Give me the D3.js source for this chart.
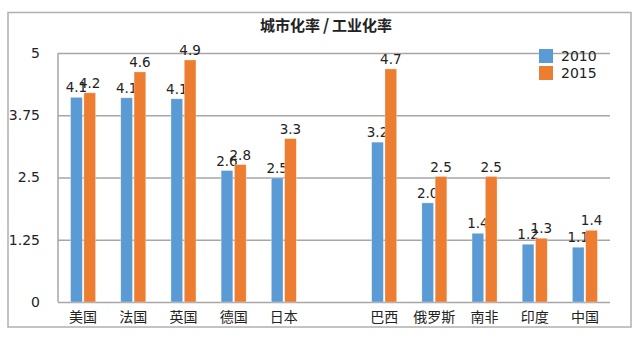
<!DOCTYPE html>
<html><head><meta charset="utf-8">
<script src="https://cdn.jsdelivr.net/npm/d3@7"></script>
<style>html,body{margin:0;padding:0;background:#fff}svg{display:block}</style>
</head><body><svg id="c" width="640" height="340"></svg>
<script>
const categories = ["美国","法国","英国","德国","日本","","巴西","俄罗斯","南非","印度","中国"];
const seriesNames = ["2010","2015"];
const values2010 = [4.11, 4.10, 4.08, 2.64, 2.49, null, 3.21, 1.99, 1.38, 1.16, 1.10];
const values2015 = [4.20, 4.62, 4.86, 2.76, 3.28, null, 4.68, 2.52, 2.52, 1.28, 1.44];
const yTicks = [0, 1.25, 2.5, 3.75, 5];
const yTickLabels = ["0", "1.25", "2.5", "3.75", "5"];
const colors = ["#5b9bd5", "#ed7d31"];
const titleParts = ["城市化率", "/", "工业化率"];

const svg = d3.select("#c");
const m = {l: 58, r: 610, t: 53, b: 302};
const x = d3.scaleBand().domain(categories).range([m.l, m.r]);
const y = d3.scaleLinear().domain([0, 5]).range([m.b, m.t]);
const xs = d3.scaleBand().domain(seriesNames).range([-12.5, 12.5]).paddingInner(0.12);

// outer border
svg.append("rect").attr("x", 8).attr("y", 12.5).attr("width", 623).attr("height", 314.5)
  .attr("fill", "#fff").attr("stroke", "#b0b0b0").attr("stroke-width", 1.5);

// title
const t = svg.append("text").attr("x", 326).attr("y", 31).attr("text-anchor", "middle")
  .attr("font-family", "'Noto Sans CJK SC', sans-serif").attr("font-weight", "bold")
  .attr("font-size", 15).attr("fill", "#222");
t.append("tspan").text(titleParts[0]);
t.append("tspan").attr("dx", 3).attr("font-size", 16).text(titleParts[1]);
t.append("tspan").attr("dx", 3).text(titleParts[2]);

// y axis with gridlines
const yAxis = d3.axisLeft(y).tickValues(yTicks)
  .tickFormat((d, i) => yTickLabels[i]).tickSize(-(m.r - m.l)).tickPadding(18);
const gy = svg.append("g").attr("transform", `translate(${m.l},0)`).call(yAxis);
gy.select(".domain").remove();
gy.selectAll(".tick line").attr("stroke", "#a6a6a6").attr("stroke-width", 1.5);
gy.selectAll(".tick text").attr("font-family", "'DejaVu Sans', Verdana, sans-serif")
  .attr("font-size", 14).attr("fill", "#222");

// left vertical axis line
svg.append("line").attr("x1", m.l).attr("x2", m.l).attr("y1", y(5)).attr("y2", y(0))
  .attr("stroke", "#a6a6a6").attr("stroke-width", 1.5);

// x axis labels
const xAxis = d3.axisBottom(x).tickSize(0).tickPadding(10);
const gx = svg.append("g").attr("transform", `translate(0,${m.b})`).call(xAxis);
gx.select(".domain").remove();
gx.selectAll(".tick text").attr("font-family", "'Noto Sans CJK SC', sans-serif")
  .attr("font-size", 14).attr("fill", "#222");

// bars
const series = [values2010, values2015];
const fmt = d3.format(".1f");
series.forEach((vals, si) => {
  const data = categories.map((c, i) => ({c, v: vals[i]})).filter(d => d.v != null);
  const g = svg.append("g");
  g.selectAll("rect").data(data).join("rect")
    .attr("x", d => x(d.c) + x.bandwidth() / 2 + xs(seriesNames[si]))
    .attr("width", xs.bandwidth())
    .attr("y", d => y(d.v))
    .attr("height", d => y(0) - y(d.v))
    .attr("fill", colors[si])
    .attr("stroke", "#ffffff").attr("stroke-opacity", 0.5).attr("stroke-width", 0.6);
  g.selectAll("text").data(data).join("text")
    .attr("x", d => x(d.c) + x.bandwidth() / 2 + xs(seriesNames[si]) + xs.bandwidth() / 2)
    .attr("y", d => y(d.v) - 5)
    .attr("text-anchor", "middle")
    .attr("font-family", "'DejaVu Sans', Verdana, sans-serif")
    .attr("font-size", 13.5).attr("fill", "#222")
    .text(d => fmt(d.v));
});

// legend
const lg = svg.append("g");
seriesNames.forEach((s, i) => {
  lg.append("rect").attr("x", 539).attr("y", 49 + i * 17).attr("width", 14).attr("height", 14)
    .attr("fill", colors[i]);
  lg.append("text").attr("x", 561).attr("y", 61 + i * 17)
    .attr("font-family", "'DejaVu Sans', Verdana, sans-serif")
    .attr("font-size", 14).attr("fill", "#222").text(s);
});
</script></body></html>
